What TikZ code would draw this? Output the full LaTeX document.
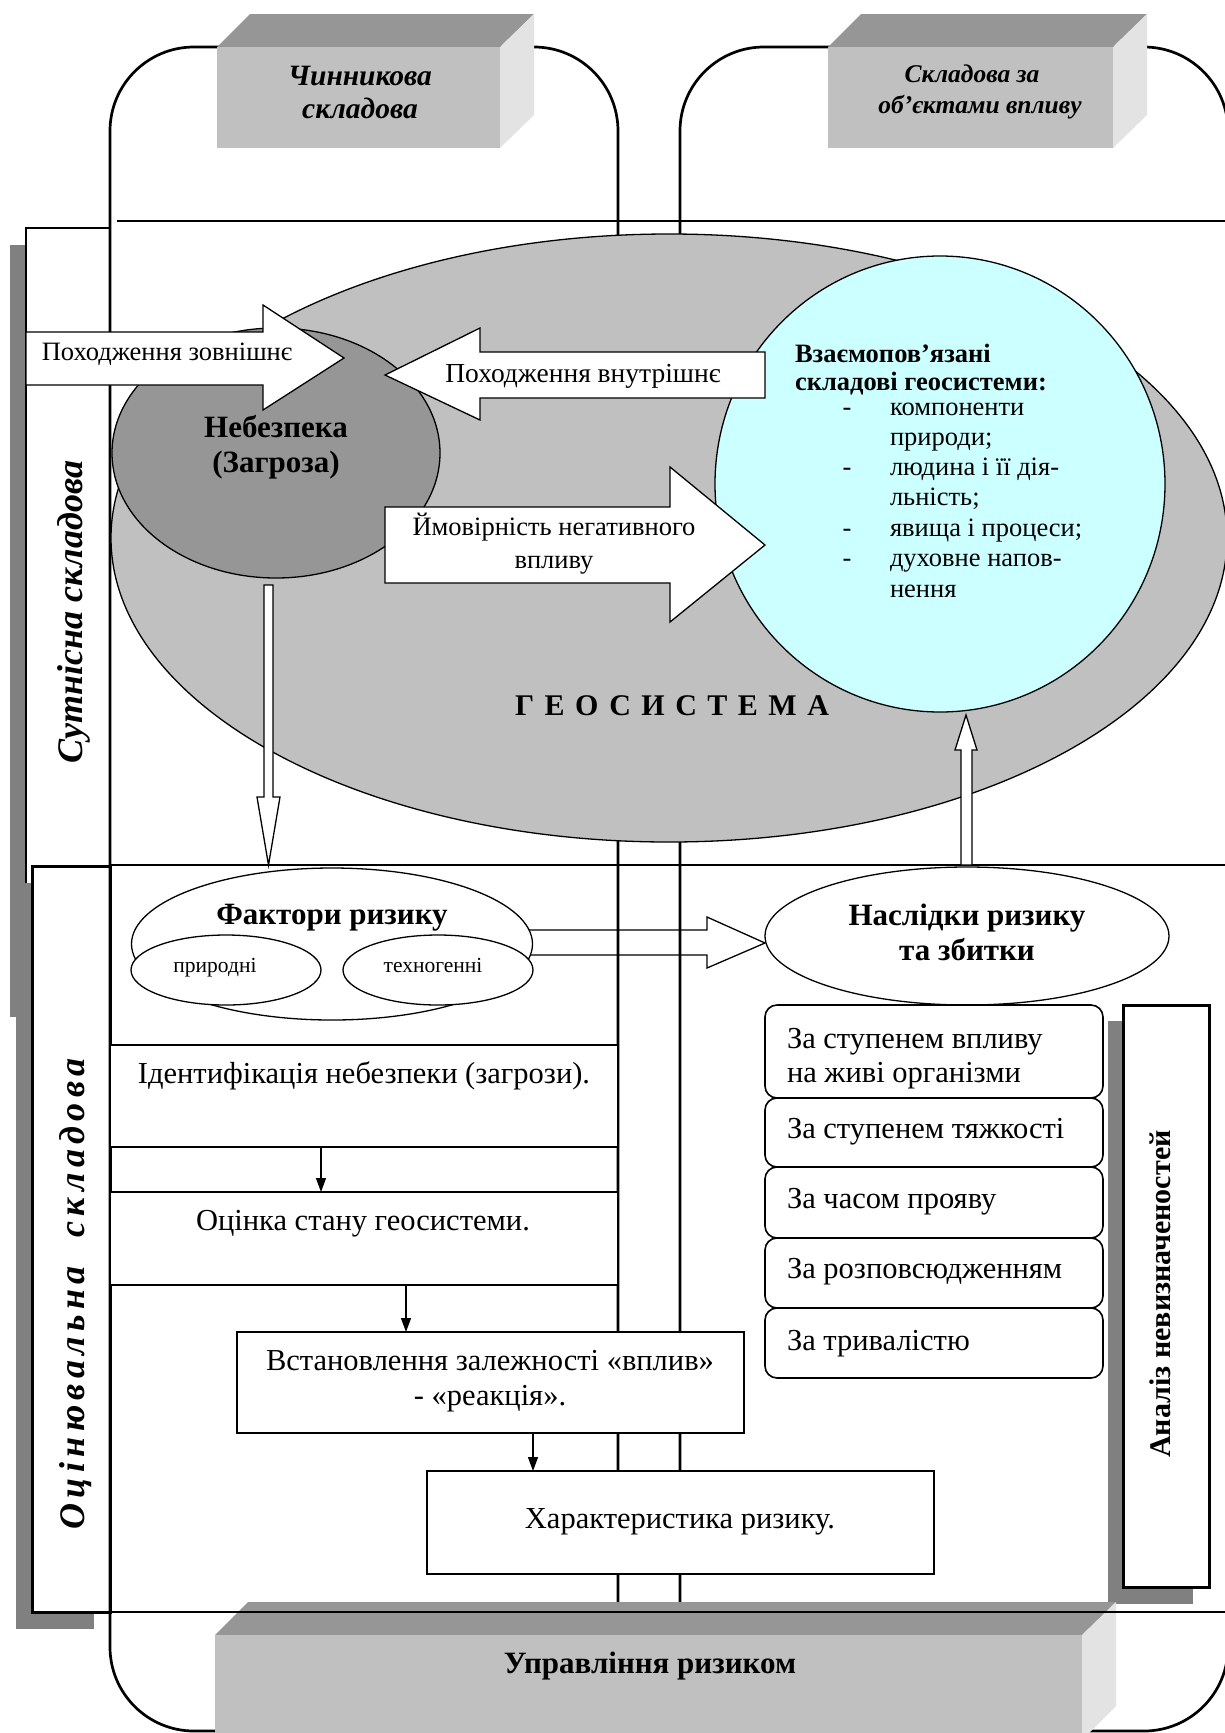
\documentclass[tikz,border=0pt]{standalone}
\usepackage{fontspec}
\setmainfont{Liberation Serif}
\usetikzlibrary{arrows.meta,shapes.geometric}
\definecolor{geofill}{HTML}{C0C0C0}
\definecolor{hazfill}{HTML}{969696}
\definecolor{cyanfill}{HTML}{CCFFFF}
\definecolor{shadowgray}{HTML}{808080}
\definecolor{cubefront}{HTML}{C0C0C0}
\definecolor{cubetop}{HTML}{969696}
\definecolor{cubeside}{HTML}{E3E3E3}
\newcommand\fsz[2]{\fontsize{#1pt}{#2pt}\selectfont}
\begin{document}
\begin{tikzpicture}[x=1pt,y=-1pt,
  every node/.style={inner sep=0pt, outer sep=0pt},
  thinln/.style={line width=1.3pt},
  colln/.style={line width=2.7pt},
  dropshadow/.style={fill=shadowgray},
  blockarr/.style={draw, fill=white, line width=1.3pt, line join=miter},
  flowarr/.style={line width=1.2pt, -{Triangle[length=14pt,width=10pt]}},
  framebox/.style={draw, fill=white, line width=1.6pt, anchor=north west},
  heavybox/.style={draw, fill=white, line width=3pt, anchor=north west},
  rbox/.style={draw, fill=white, line width=1.6pt, rounded corners=12pt, minimum width=338pt, anchor=north west},
  oval/.style={ellipse, draw, line width=1.3pt},
  cube/.style={fill=cubefront, anchor=north west},
  t26/.style={font=\fsz{26.5}{30}, anchor=base},
  t30/.style={font=\fsz{30.5}{34}, anchor=base},
  t30l/.style={font=\fsz{30.5}{34}, anchor=base west},
  t21/.style={font=\fsz{21.5}{24}, anchor=base},
  b31/.style={font=\fsz{31}{35}\bfseries, anchor=base},
  b26l/.style={font=\fsz{26.5}{30}\bfseries, anchor=base west},
  l26/.style={font=\fsz{26.5}{30}, anchor=base west},
  bi29/.style={font=\fsz{29.5}{33}\bfseries\itshape, anchor=base},
  bi26/.style={font=\fsz{25.5}{30}\bfseries\itshape, anchor=base}
]
\path[use as bounding box] (0,0) rectangle (1225,1733);

% side panels with shadows
\fill[dropshadow] (10,245) rectangle (94,1017);
\node[framebox, minimum width=84pt, minimum height=772pt] (sutbox) at (26,228) {};
\fill[dropshadow] (16,883) rectangle (94,1629);
\node[heavybox, minimum width=78pt, minimum height=746pt] (ocbox) at (32,866) {};

% two columns
\draw[colln, rounded corners=84pt] (110,47) rectangle (618,1731);
\draw[colln, rounded corners=84pt] (680,47) rectangle (1228,1731);

% dividers
\draw[thinln] (117,221) -- (1225,221);
\draw[thinln] (110,865) -- (1225,865);

% top cubes
\fill[cubetop] (217,47) -- (250,14) -- (534,14) -- (500,47) -- cycle;
\fill[cubeside] (500,47) -- (534,14) -- (534,115) -- (500,148) -- cycle;
\node[cube, minimum width=283pt, minimum height=101pt] (chyn) at (217,47) {};
\fill[cubetop] (828,47) -- (861,14) -- (1147,14) -- (1113,47) -- cycle;
\fill[cubeside] (1113,47) -- (1147,14) -- (1147,115) -- (1113,148) -- cycle;
\node[cube, minimum width=285pt, minimum height=101pt] (obj) at (828,47) {};
\node[bi29] (tchyn1) at (360,85) {Чинникова};
\node[bi29] (tchyn2) at (360,118) {складова};
\node[bi26] (tobj1) at (972,82) {Складова за};
\node[bi26] (tobj2) at (980,113) {об’єктами впливу};

% geosystem
\node[oval, fill=geofill, minimum width=1116pt, minimum height=608pt] (geo) at (669,538) {};
\node[oval, fill=hazfill, minimum width=328pt, minimum height=250pt] (haz) at (276,453) {};
\node[oval, fill=cyanfill, minimum width=450pt, minimum height=456pt] (comp) at (940,484) {};

% block arrows
\draw[blockarr] (26,332) -- (263,332) -- (263,305) -- (344,358) -- (263,410) -- (263,385) -- (26,385) -- cycle;
\draw[blockarr] (765,352) -- (480,352) -- (480,328) -- (385,375) -- (480,420) -- (480,398) -- (765,398) -- cycle;
\draw[blockarr] (385,507) -- (670,507) -- (670,467) -- (765,545) -- (670,622) -- (670,583) -- (385,583) -- cycle;
\draw[blockarr] (264,585) -- (273,585) -- (273,797) -- (280,797) -- (268.5,865) -- (257,797) -- (264,797) -- cycle;
\draw[blockarr] (961,865) -- (961,750) -- (955,750) -- (966,715) -- (977,750) -- (972,750) -- (972,865) -- cycle;

% upper texts
\node[t26] (tzovn) at (167,360) {Походження зовнішнє};
\node[t26, font=\fsz{27.5}{30}] (tvnut) at (583,382) {Походження внутрішнє};
\node[t26] (timov1) at (554,535) {Ймовірність негативного};
\node[t26] (timov2) at (554,568) {впливу};
\node[b31] (thaz1) at (276,437) {Небезпека};
\node[b31] (thaz2) at (276,472) {(Загроза)};
\node[b26l] (tcomp1) at (795,362) {Взаємопов’язані};
\node[b26l] (tcomp2) at (795,390) {складові геосистеми:};
\foreach \yy/\txt/\dash in {415/компоненти/1, 445/природи;/0, 475/людина і її дія-/1, 505/льність;/0, 536/явища і процеси;/1, 566/духовне напов-/1, 597/нення/0}{
  \node[l26] at (890,\yy) {\txt};
  \ifnum\dash=1 \node[t26] at (847,\yy) {-};\fi
}
\node[font=\fsz{30}{34}\bfseries\addfontfeature{LetterSpace=35}, anchor=base] (tgeo) at (672,715) {ГЕОСИСТЕМА};
\node[rotate=90, font=\fsz{36}{40}\bfseries\itshape] (tsut) at (74,612) {Сутнісна складова};

% lower region
\node[framebox, line width=1.3pt, minimum width=508pt, minimum height=102pt] (ident) at (110,1045) {};
\node[framebox, line width=1.3pt, minimum width=508pt, minimum height=93pt] (ocinka) at (110,1192) {};
\draw[flowarr] ([xshift=211pt]ident.south west) -- ([xshift=211pt]ocinka.north west);
\node[t30] (tident) at (364,1083) {Ідентифікація небезпеки (загрози).};
\node[t30] (tocin) at (363,1230) {Оцінка стану геосистеми.};

\draw[thinln] (520,930) -- (707,930) -- (707,917) -- (765,943) -- (707,968) -- (707,955) -- (520,955);
\node[oval, fill=white, minimum width=401pt, minimum height=152pt] (fakt) at (332,944) {};
\node[oval, fill=white, minimum width=190pt, minimum height=70pt] (pryr) at (226,970) {};
\node[oval, fill=white, minimum width=190pt, minimum height=70pt] (tekh) at (438,970) {};
\node[b31] (tfakt) at (332,924) {Фактори ризику};
\node[t21] (tpryr) at (215,972) {природні};
\node[t21] (ttekh) at (433,972) {техногенні};

\node[oval, fill=white, minimum width=404pt, minimum height=138pt] (nasl) at (967,936) {};
\node[b31] (tnasl1) at (967,925) {Наслідки ризику};
\node[b31] (tnasl2) at (967,960) {та збитки};

\node[rbox, minimum height=93pt] (r1) at (765,1005) {};
\node[rbox, minimum height=69pt] (r2) at (765,1098) {};
\node[rbox, minimum height=71pt] (r3) at (765,1167) {};
\node[rbox, minimum height=70pt] (r4) at (765,1238) {};
\node[rbox, minimum height=70pt] (r5) at (765,1308) {};
\node[t30l] (tr1a) at (787,1048) {За ступенем впливу};
\node[t30l] (tr1b) at (787,1082) {на живі організми};
\node[t30l] (tr2) at (787,1138) {За ступенем тяжкості};
\node[t30l] (tr3) at (787,1208) {За часом прояву};
\node[t30l] (tr4) at (787,1278) {За розповсюдженням};
\node[t30l] (tr5) at (787,1350) {За тривалістю};

\fill[dropshadow] (1108,1021) rectangle (1193,1604);
\node[heavybox, minimum width=86pt, minimum height=582pt] (anal) at (1123,1005) {};
\node[rotate=90, font=\fsz{30}{34}\bfseries] (tanal) at (1160,1294) {Аналіз невизначеностей};

\node[framebox, minimum width=507pt, minimum height=101pt] (vstan) at (237,1332) {};
\node[framebox, minimum width=507pt, minimum height=103pt] (khar) at (427,1471) {};
\draw[flowarr] ([xshift=296pt]ocinka.south west) -- ([xshift=169pt]vstan.north west);
\draw[flowarr] ([xshift=296pt]vstan.south west) -- ([xshift=106pt]khar.north west);
\node[t30] (tvst1) at (490,1370) {Встановлення залежності «вплив»};
\node[t30] (tvst2) at (490,1405) {- «реакція».};
\node[t30] (tkhar) at (680,1528) {Характеристика ризику.};

\node[rotate=90, font=\fsz{36}{40}\bfseries\itshape\addfontfeature{LetterSpace=15}] (toc) at (76,1294) {Оцінювальна~~складова};

% bottom cube
\fill[cubetop] (215,1635) -- (248,1602) -- (1116,1602) -- (1082,1635) -- cycle;
\fill[cubeside] (1082,1635) -- (1116,1602) -- (1116,1706) -- (1082,1740) -- cycle;
\node[cube, minimum width=867pt, minimum height=105pt] (upr) at (215,1635) {};
\node[b31] (tupr) at (650,1673) {Управління ризиком};
\draw[line width=2pt] (110,1612) -- (1225,1612);
\end{tikzpicture}
\end{document}
